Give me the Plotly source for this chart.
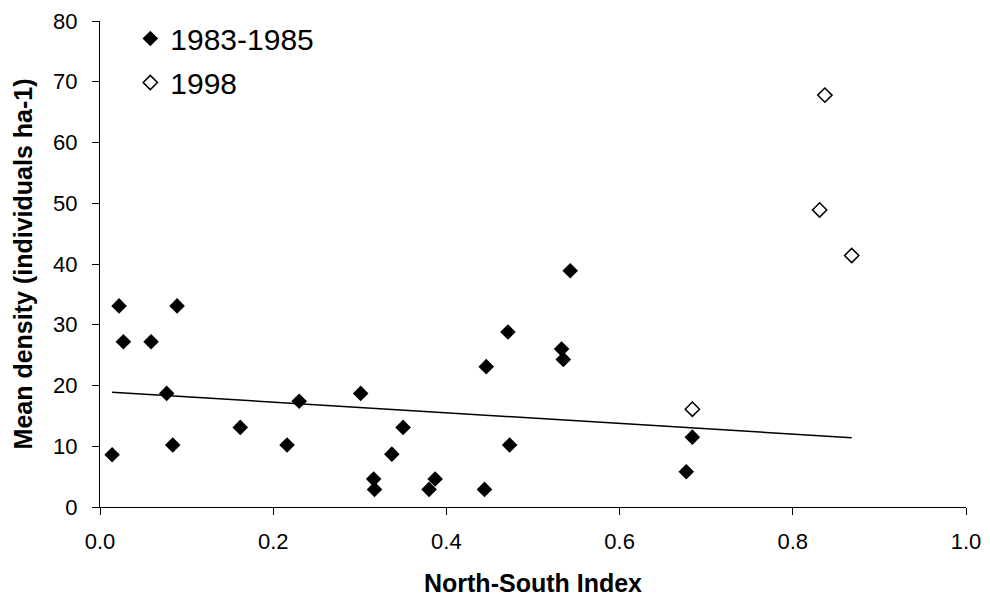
import plotly.graph_objects as go

# 1983-1985 survey
x_8385 = [0.014, 0.022, 0.027, 0.059, 0.077, 0.084, 0.089, 0.162, 0.216, 0.230,
          0.301, 0.316, 0.317, 0.337, 0.350, 0.380, 0.387, 0.444, 0.446, 0.471,
          0.473, 0.533, 0.535, 0.543, 0.677, 0.684]
y_8385 = [8.6, 33.1, 27.2, 27.2, 18.7, 10.2, 33.1, 13.1, 10.2, 17.4,
          18.7, 4.6, 2.9, 8.7, 13.1, 2.9, 4.6, 2.9, 23.1, 28.8,
          10.2, 26.0, 24.3, 38.9, 5.8, 11.5]

# 1998 survey
x_1998 = [0.684, 0.831, 0.837, 0.868]
y_1998 = [16.1, 48.9, 67.8, 41.4]

# linear trend line (endpoints)
trend_x = [0.014, 0.868]
trend_y = [18.9, 11.4]

x_ticks = [0.0, 0.2, 0.4, 0.6, 0.8, 1.0]
x_ticklabels = ["0.0", "0.2", "0.4", "0.6", "0.8", "1.0"]
y_ticks = [0, 10, 20, 30, 40, 50, 60, 70, 80]

font_family = "Liberation Sans, Arial, sans-serif"

fig = go.Figure()
fig.add_trace(go.Scatter(
    x=trend_x, y=trend_y, mode="lines",
    line=dict(color="black", width=1.5), showlegend=False, hoverinfo="skip"))
fig.add_trace(go.Scatter(
    x=x_8385, y=y_8385, mode="markers", name="1983-1985",
    legendgroup="a",
    marker=dict(symbol="diamond", size=12, color="black",
                line=dict(color="black", width=0))))
fig.add_trace(go.Scatter(
    x=x_1998, y=y_1998, mode="markers", name="1998",
    legendgroup="b",
    marker=dict(symbol="diamond", size=11, color="white",
                line=dict(color="black", width=1.5))))

axis_common = dict(
    showgrid=False, zeroline=False, showline=True, linecolor="black", linewidth=1,
    ticks="outside", ticklen=7, tickcolor="black", tickwidth=1, automargin=False,
    tickfont=dict(family=font_family, size=22, color="black"),
)

fig.update_layout(
    width=990, height=597,
    margin=dict(l=100, r=24, t=21, b=90),
    paper_bgcolor="white", plot_bgcolor="white",
    font=dict(family=font_family, color="black"),
    xaxis=dict(range=[0, 1.0], tickvals=x_ticks, ticktext=x_ticklabels,
               ticklabelstandoff=8,
               title=dict(text="<b>North-South Index</b>",
                          font=dict(family=font_family, size=25), standoff=24),
               **axis_common),
    yaxis=dict(range=[0, 80], tickvals=y_ticks, ticklabelstandoff=10,
               title=dict(text="<b>Mean density (individuals ha-1)</b>",
                          font=dict(family=font_family, size=25), standoff=13),
               **axis_common),
    legend=dict(x=0.035, y=1.0175, xanchor="left", yanchor="top",
                bgcolor="rgba(0,0,0,0)", tracegroupgap=2,
                font=dict(family=font_family, size=30, color="black")),
)

fig.write_html("out.html")
